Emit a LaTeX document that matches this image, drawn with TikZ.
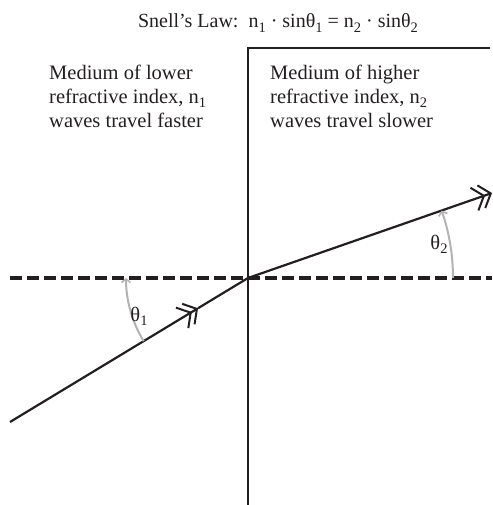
\documentclass[tikz,border=0pt]{standalone}
\usepackage{fontspec}
\setmainfont{Liberation Serif}
\usetikzlibrary{positioning, arrows.meta, calc}
\definecolor{rayblack}{HTML}{231F20}
\definecolor{arcgray}{HTML}{B3B3B3}
\newcommand{\lsub}[1]{\raisebox{-0.45ex}{\fontsize{14.5}{14.5}\selectfont #1}}

\begin{document}
\begin{tikzpicture}[x=1pt, y=1pt, font=\fontsize{20.5}{24}\selectfont,
    ray/.style={draw=rayblack, line width=2.2pt},
    wavetip/.style={-{Straight Barb[length=10pt, width=24pt, line width=2pt, sep=-5pt] Straight Barb[length=10pt, width=24pt, line width=2pt]}},
    anglearc/.style={draw=arcgray, line width=2pt, -{Straight Barb[length=3.5pt, width=9pt, line width=1.6pt]}},
    mediumtext/.style={anchor=north west, align=left, inner sep=0pt, text=rayblack}]
  \useasboundingbox (0,0) rectangle (492,505);
  \coordinate (O) at (248,227);
  \coordinate (start) at (10,83);
  \coordinate (finish) at (492,312);
  \coordinate (mid) at ($(start)!0.79!(O)$);
  % boundary between the two media
  \draw[ray] (248,0) -- (248,457) -- (490,457);
  \draw[rayblack, line width=4pt, dash pattern=on 11.5pt off 5.5pt] (10,227) -- (492,227);
  % incoming and refracted wave
  \draw[ray, wavetip] (start) -- (mid);
  \draw[ray] (mid) -- (O);
  \draw[ray, wavetip] (O) -- (finish);
  % angles
  \draw[anglearc] ($(O)+(211.2:122)$) arc[start angle=211.2, end angle=180, radius=122];
  \draw[anglearc] ($(O)+(0:205)$) arc[start angle=0, end angle=19.2, radius=205];
  \node[text=rayblack] (theta1) at (139,189) {θ\lsub{1}};
  \node[text=rayblack] (theta2) at (439,261) {θ\lsub{2}};
  % texts
  \node[text=rayblack, font=\fontsize{20}{22}\selectfont] (law) at (278,482)
    {Snell's Law:\ \ n\lsub{1} · sinθ\lsub{1} = n\lsub{2} · sinθ\lsub{2}};
  \node[mediumtext] (lower) at (49,440)
    {Medium of lower\\refractive index, n\lsub{1}\\waves travel faster};
  \node[mediumtext] (higher) at (270,440)
    {Medium of higher\\refractive index, n\lsub{2}\\waves travel slower};
\end{tikzpicture}
\end{document}
